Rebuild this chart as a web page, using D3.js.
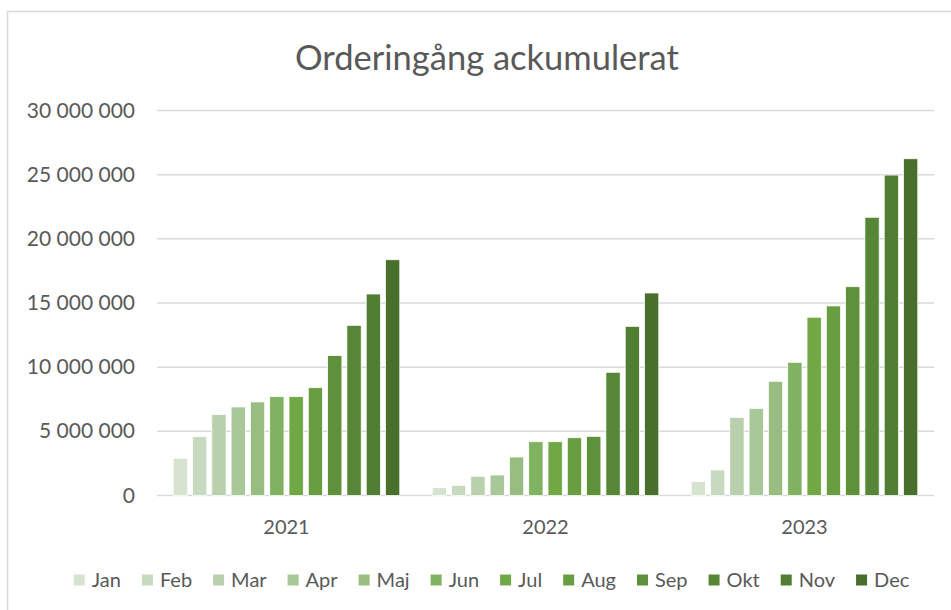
<!DOCTYPE html>
<html>
<head>
<meta charset="utf-8">
<script src="https://cdn.jsdelivr.net/npm/d3@7"></script>
<style>
  body { margin: 0; background: #fff; }
  svg { display: block; }
</style>
</head>
<body>
<div id="chart"></div>
<script>
const years = ["2021", "2022", "2023"];
const months = ["Jan", "Feb", "Mar", "Apr", "Maj", "Jun", "Jul", "Aug", "Sep", "Okt", "Nov", "Dec"];

// ackumulerad orderingång per år, en rad per månad
const values2021 = [2900000, 4580000, 6300000, 6900000, 7290000, 7700000, 7700000, 8400000, 10900000, 13260000, 15700000, 18370000];
const values2022 = [610000, 790000, 1500000, 1600000, 3000000, 4190000, 4190000, 4500000, 4610000, 9600000, 13180000, 15780000];
const values2023 = [1100000, 1990000, 6090000, 6790000, 8900000, 10380000, 13890000, 14770000, 16270000, 21680000, 24970000, 26240000];

const yTicks = [0, 5000000, 10000000, 15000000, 20000000, 25000000, 30000000];

const monthColors = ["#d6e3cf", "#c7d9bf", "#b8d0ac", "#a8c899", "#97bd80", "#80b262",
                     "#70a845", "#689e40", "#5f913b", "#578636", "#507e33", "#48702c"];

const width = 951;
const height = 610;
const textColor = "#595959";
const font = "Lato, 'Open Sans', sans-serif";

const plot = { left: 157, right: 934, top: 110.5, bottom: 495.5 };

const data = years.map((y, i) => ({
    year: y,
    values: [values2021, values2022, values2023][i]
}));

const svg = d3.select("#chart")
    .append("svg")
    .attr("width", width)
    .attr("height", height)
    .style("background", "#fff")
    .style("font-family", font);

// ram runt diagrammet
svg.append("rect")
    .attr("x", 7.5)
    .attr("y", 11.5)
    .attr("width", 965)
    .attr("height", 620)
    .attr("fill", "none")
    .attr("stroke", "#d9d9d9")
    .attr("stroke-width", 1.5);

svg.append("text")
    .attr("x", 487)
    .attr("y", 70)
    .attr("text-anchor", "middle")
    .attr("fill", textColor)
    .attr("font-size", "34.5px")
    .text("Orderingång ackumulerat");

const x0 = d3.scaleBand()
    .domain(years)
    .range([plot.left, plot.right])
    .padding(0);

const x1 = d3.scaleBand()
    .domain(months)
    .range([0, x0.bandwidth()])
    .paddingInner(0.26)
    .paddingOuter(0.84);

const y = d3.scaleLinear()
    .domain([0, 30000000])
    .range([plot.bottom, plot.top]);

const fmt = v => d3.format(",")(v).replace(/,/g, " ");

// stödlinjer
svg.append("g")
    .selectAll("line")
    .data(yTicks)
    .join("line")
    .attr("x1", plot.left)
    .attr("x2", plot.right)
    .attr("y1", d => y(d))
    .attr("y2", d => y(d))
    .attr("stroke", "#d9d9d9")
    .attr("stroke-width", 1.5);

svg.append("g")
    .selectAll("text")
    .data(yTicks)
    .join("text")
    .attr("x", 135)
    .attr("y", d => y(d) + 7)
    .attr("text-anchor", "end")
    .attr("fill", textColor)
    .attr("font-size", "21px")
    .text(d => fmt(d));

const groups = svg.append("g")
    .selectAll("g")
    .data(data)
    .join("g")
    .attr("transform", d => `translate(${x0(d.year)},0)`);

groups.selectAll("rect")
    .data(d => d.values.map((v, i) => ({ month: months[i], value: v, i })))
    .join("rect")
    .attr("x", d => x1(d.month))
    .attr("y", d => y(d.value))
    .attr("width", x1.bandwidth())
    .attr("height", d => y(0) - y(d.value))
    .attr("fill", d => monthColors[d.i])
    .attr("stroke", "#fff")
    .attr("stroke-width", 0.75);

svg.append("g")
    .selectAll("text")
    .data(years)
    .join("text")
    .attr("x", d => x0(d) + x0.bandwidth() / 2)
    .attr("y", 534)
    .attr("text-anchor", "middle")
    .attr("fill", textColor)
    .attr("font-size", "20px")
    .text(d => d);

// förklaring, centrerad
const legend = svg.append("g");
const sq = 11;
const gapText = 7;
const gapItem = 21;
let lx = 0;
months.forEach((m, i) => {
    const item = legend.append("g").attr("transform", `translate(${lx},0)`);
    item.append("rect")
        .attr("x", 0)
        .attr("y", -sq / 2)
        .attr("width", sq)
        .attr("height", sq)
        .attr("fill", monthColors[i]);
    const t = item.append("text")
        .attr("x", sq + gapText)
        .attr("y", 7)
        .attr("fill", textColor)
        .attr("font-size", "20px")
        .text(m);
    lx += sq + gapText + t.node().getComputedTextLength() + gapItem;
});
const legendWidth = lx - gapItem;
legend.attr("transform", `translate(${491.5 - legendWidth / 2},580)`);
</script>
</body>
</html>
